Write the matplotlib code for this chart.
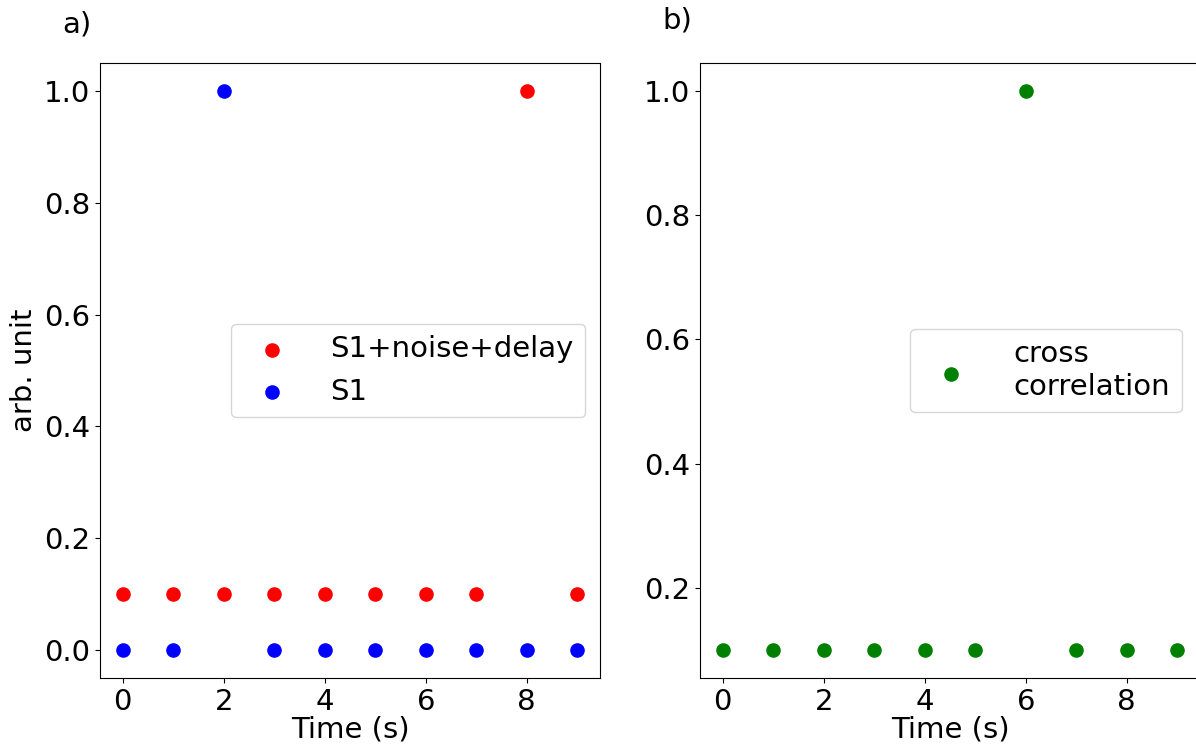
import matplotlib
matplotlib.use("Agg")
import matplotlib.pyplot as plt

t = [0, 1, 2, 3, 4, 5, 6, 7, 8, 9]
s1_noise_delay = [0.1, 0.1, 0.1, 0.1, 0.1, 0.1, 0.1, 0.1, 1.0, 0.1]
s1 = [0.0, 0.0, 1.0, 0.0, 0.0, 0.0, 0.0, 0.0, 0.0, 0.0]
xcorr = [0.1, 0.1, 0.1, 0.1, 0.1, 0.1, 1.0, 0.1, 0.1, 0.1]

plt.rcParams['font.size'] = 21
fig = plt.figure(figsize=(11.96, 7.5), dpi=100)
ax1 = fig.add_axes([100/1196, 1-678/750, 500/1196, 615/750])
ax2 = fig.add_axes([700/1196, 1-678/750, 500/1196, 615/750])

ax1.scatter(t, s1_noise_delay, color='red', s=90, label='S1+noise+delay')
ax1.scatter(t, s1, color='blue', s=90, label='S1')
ax1.set_xlabel('Time (s)', labelpad=0)
ax1.set_ylabel('arb. unit')
ax1.legend(loc='center right', handletextpad=1.0)
ax1.set_xticks([0, 2, 4, 6, 8])

ax2.scatter(t, xcorr, color='green', s=90, label='cross\ncorrelation')
ax2.set_xlabel('Time (s)', labelpad=0)
ax2.legend(loc='center left', bbox_to_anchor=(0.42, 0.5), borderaxespad=0,
           handletextpad=1.15)
ax2.set_xticks([0, 2, 4, 6, 8])

fig.text(77/1196, 1-25/750, 'a)', ha='center', va='center')
fig.text(677/1196, 1-20/750, 'b)', ha='center', va='center')

fig.savefig('out.png', dpi=100)
